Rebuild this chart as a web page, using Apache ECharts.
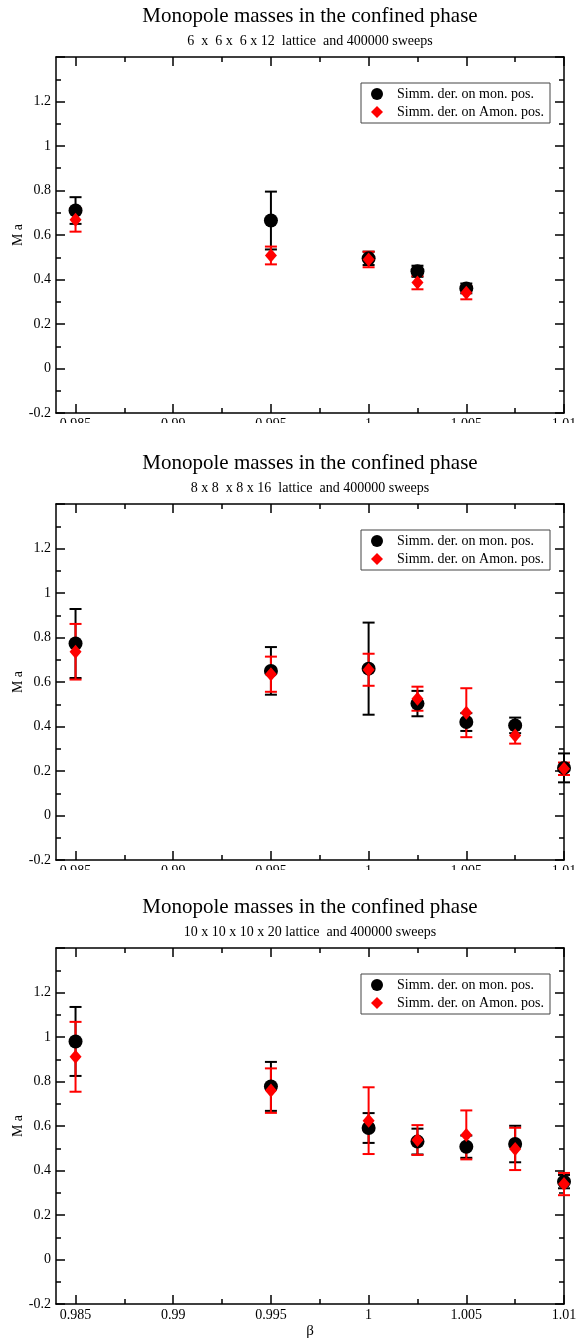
<!DOCTYPE html>
<html>
<head>
<meta charset="utf-8">
<script src="https://cdn.jsdelivr.net/npm/echarts@6/dist/echarts.min.js"></script>
<style>
  html, body { margin: 0; padding: 0; background: #fff; }
  #chart { width: 577px; height: 1338px; }
</style>
</head>
<body>
<div id="chart"></div>
<script>
// data
var subtitles = [
    '6  x  6 x  6 x 12  lattice  and 400000 sweeps',
    '8 x 8  x 8 x 16  lattice  and 400000 sweeps',
    '10 x 10 x 10 x 20 lattice  and 400000 sweeps'
];
var xMajor = [0.985, 0.99, 0.995, 1, 1.005, 1.01];
var xMinor = [0.9875, 0.9925, 0.9975, 1.0025, 1.0075];

var beta1 = [0.985, 0.995, 1.0, 1.0025, 1.005];
var mon1 = [0.71, 0.665, 0.495, 0.437, 0.36];
var monErr1 = [0.06, 0.13, 0.03, 0.025, 0.022];
var amon1 = [0.668, 0.508, 0.49, 0.386, 0.341];
var amonErr1 = [0.053, 0.04, 0.035, 0.03, 0.03];

var beta2 = [0.985, 0.995, 1.0, 1.0025, 1.005, 1.0075, 1.01];
var mon2 = [0.773, 0.65, 0.66, 0.503, 0.42, 0.405, 0.214];
var monErr2 = [0.155, 0.107, 0.207, 0.057, 0.04, 0.035, 0.065];
var amon2 = [0.736, 0.635, 0.655, 0.525, 0.462, 0.36, 0.21];
var amonErr2 = [0.125, 0.079, 0.072, 0.054, 0.11, 0.037, 0.028];

var beta3 = [0.985, 0.995, 1.0, 1.0025, 1.005, 1.0075, 1.01];
var mon3 = [0.98, 0.778, 0.591, 0.53, 0.507, 0.519, 0.35];
var monErr3 = [0.155, 0.11, 0.067, 0.058, 0.05, 0.082, 0.03];
var amon3 = [0.911, 0.759, 0.624, 0.537, 0.56, 0.497, 0.339];
var amonErr3 = [0.157, 0.1, 0.15, 0.067, 0.11, 0.095, 0.05];

var panels = [
    {beta: beta1, mon: mon1, monErr: monErr1, amon: amon1, amonErr: amonErr1},
    {beta: beta2, mon: mon2, monErr: monErr2, amon: amon2, amonErr: amonErr2},
    {beta: beta3, mon: mon3, monErr: monErr3, amon: amon3, amonErr: amonErr3}
];

var MON = 'Simm. der. on mon. pos.';
var AMON = 'Simm. der. on Amon. pos.';
var FONT = 'Liberation Serif';
var tops = [57, 504, 948];
var H = 356;
var diamond = 'path://M0,-1L1,0L0,1L-1,0Z';

function errItem(params, api) {
    var x = api.value(0);
    var p1 = api.coord([x, api.value(1)]);
    var p2 = api.coord([x, api.value(2)]);
    var hw = 6;
    var st = {stroke: api.visual('color'), lineWidth: 2};
    return {
        type: 'group',
        children: [
            {type: 'line', shape: {x1: p1[0], y1: p1[1], x2: p2[0], y2: p2[1]}, style: st},
            {type: 'line', shape: {x1: p1[0] - hw, y1: p1[1], x2: p1[0] + hw, y2: p1[1]}, style: st},
            {type: 'line', shape: {x1: p2[0] - hw, y1: p2[1], x2: p2[0] + hw, y2: p2[1]}, style: st}
        ]
    };
}

var grid = [], xAxis = [], yAxis = [], series = [], title = [], legend = [], graphic = [];
var lineSt = {color: '#000', width: 1.5};

panels.forEach(function (p, i) {
    var last = (i == 2);
    grid.push({left: 56, right: 13, top: tops[i], height: H, outerBoundsMode: 'none'});
    // title centred over the plot area, not the page
    title.push({
        text: 'Monopole masses in the confined phase',
        subtext: subtitles[i],
        left: 310,
        textAlign: 'center',
        top: tops[i] - 51,
        itemGap: 7,
        padding: 0,
        textStyle: {fontFamily: FONT, fontSize: 21, fontWeight: 'normal', color: '#000'},
        subtextStyle: {fontFamily: FONT, fontSize: 14, color: '#000'}
    });
    var base = {type: 'value', gridIndex: i, min: 0.984, max: 1.01, splitLine: {show: false}};
    // bottom: major ticks + labels
    xAxis.push(Object.assign({}, base, {
        position: 'bottom',
        name: last ? 'β' : '',
        nameLocation: 'middle',
        nameGap: 20,
        nameTextStyle: {fontFamily: FONT, fontSize: 15, color: '#000'},
        axisLine: {show: true, onZero: false, lineStyle: lineSt},
        axisTick: {show: true, inside: true, length: 9, lineStyle: lineSt, customValues: xMajor},
        axisLabel: {show: true, margin: 4, fontFamily: FONT, fontSize: 14, color: '#000', customValues: xMajor}
    }));
    // bottom minor ticks
    xAxis.push(Object.assign({}, base, {
        position: 'bottom',
        axisLine: {show: false, onZero: false},
        axisTick: {show: true, inside: true, length: 5, lineStyle: lineSt, customValues: xMinor},
        axisLabel: {show: false}
    }));
    // top frame
    xAxis.push(Object.assign({}, base, {
        position: 'top',
        axisLine: {show: true, onZero: false, lineStyle: lineSt},
        axisTick: {show: true, inside: true, length: 9, lineStyle: lineSt, customValues: xMajor},
        axisLabel: {show: false}
    }));
    xAxis.push(Object.assign({}, base, {
        position: 'top',
        axisLine: {show: false, onZero: false},
        axisTick: {show: true, inside: true, length: 5, lineStyle: lineSt, customValues: xMinor},
        axisLabel: {show: false}
    }));
    var ybase = {
        type: 'value', gridIndex: i, min: -0.2, max: 1.4, interval: 0.2,
        splitLine: {show: false},
        axisLine: {show: true, onZero: false, lineStyle: lineSt},
        axisTick: {show: true, inside: true, length: 9, lineStyle: lineSt},
        minorTick: {show: true, splitNumber: 2, length: 5, lineStyle: lineSt}
    };
    yAxis.push(Object.assign({}, ybase, {
        position: 'left',
        name: 'M a',
        nameLocation: 'middle',
        nameGap: 31,
        nameMoveOverlap: false,
        nameTextStyle: {fontFamily: FONT, fontSize: 14, color: '#000'},
        axisLabel: {show: true, margin: 5, showMaxLabel: false, fontFamily: FONT, fontSize: 14, color: '#000'}
    }));
    yAxis.push(Object.assign({}, ybase, {
        position: 'right',
        axisLabel: {show: false}
    }));

    var xi = 4 * i, yi = 2 * i;
    series.push({
        name: 'mon-err-' + i, type: 'custom', xAxisIndex: xi, yAxisIndex: yi, clip: false,
        renderItem: errItem, itemStyle: {color: '#000'},
        encode: {x: 0, y: [1, 2]},
        data: p.beta.map(function (b, k) { return [b, p.mon[k] - p.monErr[k], p.mon[k] + p.monErr[k]]; })
    });
    series.push({
        name: MON, type: 'scatter', xAxisIndex: xi, yAxisIndex: yi, clip: false,
        symbol: 'circle', symbolSize: 14, itemStyle: {color: '#000', opacity: 1},
        data: p.beta.map(function (b, k) { return [b, p.mon[k]]; })
    });
    series.push({
        name: 'amon-err-' + i, type: 'custom', xAxisIndex: xi, yAxisIndex: yi, clip: false,
        renderItem: errItem, itemStyle: {color: '#ff0000'},
        encode: {x: 0, y: [1, 2]},
        data: p.beta.map(function (b, k) { return [b, p.amon[k] - p.amonErr[k], p.amon[k] + p.amonErr[k]]; })
    });
    series.push({
        name: AMON, type: 'scatter', xAxisIndex: xi, yAxisIndex: yi, clip: false,
        symbol: 'diamond', symbolSize: [12, 14], itemStyle: {color: '#ff0000', opacity: 1},
        data: p.beta.map(function (b, k) { return [b, p.amon[k]]; })
    });

    legend.push({
        orient: 'vertical',
        left: 361,
        top: tops[i] + 26,
        padding: [4, 6, 4, 10],
        itemGap: 4,
        itemWidth: 30,
        itemHeight: 12,
        borderColor: '#444',
        borderWidth: 1,
        selectedMode: false,
        textStyle: {fontFamily: FONT, fontSize: 14, color: '#000'},
        data: [{name: MON, icon: 'circle'}, {name: AMON, icon: diamond}]
    });

    if (!last) {
        // the original panels were cut just under the tick labels
        graphic.push({
            type: 'rect', z: 100,
            shape: {x: 0, y: tops[i] + H + 10, width: 577, height: 22},
            style: {fill: '#fff'}
        });
    }
});

var myChart = echarts.init(document.getElementById('chart'));
var option = {
    animation: false,
    backgroundColor: '#fff',
    title: title,
    legend: legend,
    grid: grid,
    xAxis: xAxis,
    yAxis: yAxis,
    series: series,
    graphic: graphic
};
myChart.setOption(option);
</script>
</body>
</html>
